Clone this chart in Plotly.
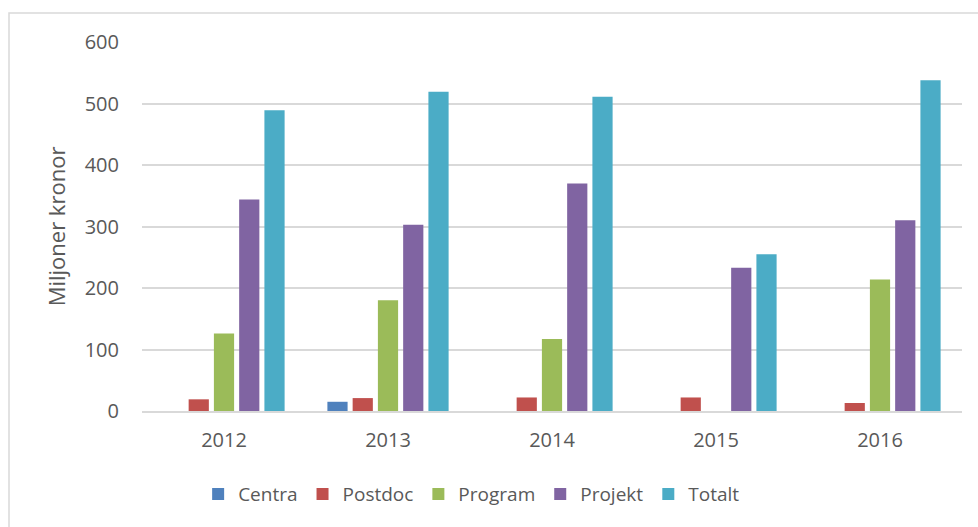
import plotly.graph_objects as go

years = ["2012", "2013", "2014", "2015", "2016"]
centra = [0, 15, 0, 0, 0]
postdoc = [19, 21, 22, 22, 13]
program = [126, 180, 117, 0, 214]
projekt = [344, 303, 370, 233, 310]
totalt = [489, 519, 511, 255, 538]

series = [
    ("Centra", centra, "#4F81BD"),
    ("Postdoc", postdoc, "#C0504D"),
    ("Program", program, "#9BBB59"),
    ("Projekt", projekt, "#8064A2"),
    ("Totalt", totalt, "#4BACC6"),
]

FONT = "Open Sans"
GRAY = "#595959"

fig = go.Figure()
for name, vals, col in series:
    fig.add_trace(go.Bar(x=years, y=vals, name=name, marker=dict(color=col, line=dict(width=0))))

fig.update_layout(
    width=978, height=527,
    margin=dict(l=142, r=16, t=42, b=116),
    paper_bgcolor="white", plot_bgcolor="white",
    barmode="group", bargap=0.23, bargroupgap=0.2,
    font=dict(family=FONT, color=GRAY, size=20),
    showlegend=True,
    legend=dict(orientation="h", x=0.402, xanchor="center", y=-0.225, yanchor="middle",
                font=dict(size=19, color=GRAY), itemwidth=30, traceorder="normal"),
    xaxis=dict(showgrid=False, showline=True, linecolor="#d9d9d9", linewidth=1.5,
               ticks="", tickfont=dict(size=20, color=GRAY), ticklabelstandoff=10),
    yaxis=dict(range=[0, 600], dtick=100, showgrid=True, gridcolor="#d9d9d9", gridwidth=1.5,
               zeroline=False, showline=False, ticks="", tickfont=dict(size=20, color=GRAY),
               ticklabelstandoff=22,
               title=dict(text="Miljoner kronor", font=dict(size=22, color=GRAY), standoff=12)),
    shapes=[dict(type="rect", xref="paper", yref="paper", x0=-0.1622, x1=1.05, y0=-0.4, y1=1.0786,
                 line=dict(color="#d9d9d9", width=1.5), layer="below")],
)

fig.write_html("out.html", config={"displayModeBar": False},
               post_script="document.body.style.margin='0';document.body.style.overflow='hidden';")
